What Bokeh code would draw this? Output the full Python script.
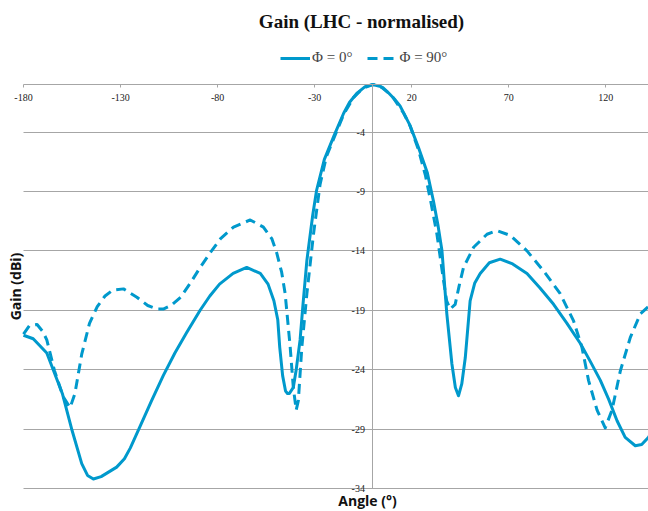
import math
from bokeh.plotting import figure
from bokeh.models import (Range1d, LinearAxis, FixedTicker, Label, Legend,
                          LegendItem, Grid, BoxAnnotation, LabelSet,
                          ColumnDataSource)
from bokeh.embed import file_html
from bokeh.resources import INLINE

# ---------------- data ----------------
x_ticks = [-180, -130, -80, -30, 20, 70, 120]
x_tick_labels = ["-180", "-130", "-80", "-30", "20", "70", "120"]
y_ticks = [-34, -29, -24, -19, -14, -9, -4]
y_tick_labels = ["-34", "-29", "-24", "-19", "-14", "-9", "-4"]
x_min, x_max = -180, 142
y_min, y_max = -34, 0

phi0_angle = [-180, -175, -168, -160, -155, -150, -147, -144, -140, -136, -132,
              -128, -125, -120, -114, -108, -102, -96, -89, -84, -79, -72, -65,
              -58, -54, -51, -49, -48, -46.5, -45, -44, -43, -41, -39.5, -37.5,
              -36, -34, -31, -29, -25, -20, -15, -12, -8, -4, 0, 4, 8, 11, 14,
              19, 23.5, 28, 31.2, 33.5, 35.6, 38.1, 40.7, 42.5, 44.1, 45.8, 47.6,
              50.1, 52.5, 55.3, 60, 65.6, 72, 79.4, 86, 93.1, 100, 106.9, 112,
              117.2, 121.5, 125.8, 130, 135.2, 138.5, 141.9, 145]
phi0_gain = [-21.1, -21.4, -22.6, -26.0, -29.1, -31.9, -32.9, -33.2, -33.0, -32.6,
             -32.2, -31.5, -30.6, -28.8, -26.6, -24.5, -22.6, -20.9, -19.0, -17.8,
             -16.8, -15.9, -15.4, -15.9, -16.8, -18.2, -19.8, -22.1, -24.5, -25.8,
             -26.0, -26.0, -25.5, -24.0, -21.5, -18.5, -14.8, -11.0, -8.9, -6.3,
             -4.3, -2.4, -1.5, -0.7, -0.18, 0.0, -0.18, -0.7, -1.2, -1.8, -3.4,
             -5.3, -7.4, -9.8, -11.8, -14.0, -19.3, -23.5, -25.5, -26.2, -25.2,
             -23.0, -18.2, -16.7, -15.9, -15.0, -14.7, -15.1, -15.9, -17.1, -18.5,
             -20.1, -21.8, -23.3, -24.9, -26.5, -28.3, -29.7, -30.4, -30.3, -29.7,
             -29.0]

phi90_angle = [-180, -177, -173, -170, -168, -164, -159.5, -156, -153.5, -150,
               -146, -142, -138, -134, -128.5, -121.6, -116, -111, -108, -104,
               -99, -94, -89, -84, -78.6, -71.8, -63.2, -56.4, -52, -49.5, -47,
               -45.2, -42.6, -41, -39.5, -38.4, -36.6, -34, -30.6, -27.2, -24,
               -20.3, -15, -10, -5, 0, 5, 10, 15.8, 19.2, 23.5, 27, 30, 33, 36.4,
               38, 39.8, 42.4, 44.5, 46.7, 51.9, 58.8, 63.9, 70.8, 79.4, 88, 96.5,
               103.4, 107.7, 111.1, 115.5, 119.7, 123.2, 127.5, 132.6, 137.8,
               141.9, 145]
phi90_gain = [-21.0, -20.3, -20.2, -20.8, -21.5, -24.1, -26.3, -27.2, -26.0, -22.7,
              -20.1, -18.7, -17.8, -17.3, -17.2, -17.9, -18.6, -18.9, -18.9, -18.6,
              -17.9, -16.7, -15.4, -14.2, -13.0, -12.0, -11.4, -12.0, -13.0, -14.2,
              -15.8, -17.6, -22.1, -25.5, -27.4, -26.6, -22.1, -17.6, -12.6, -8.4,
              -6.1, -4.6, -2.5, -1.1, -0.3, 0.0, -0.25, -1.0, -2.4, -3.5, -5.5, -7.6,
              -10.0, -12.6, -16.5, -18.2, -18.9, -18.5, -16.9, -15.4, -13.7, -12.6,
              -12.3, -12.7, -14.0, -15.7, -17.6, -19.9, -22.1, -24.9, -27.4, -28.9,
              -27.4, -24.1, -21.3, -19.3, -18.7, -18.2]

series_labels = ["\u03a6 = 0\u00b0", "\u03a6 = 90\u00b0"]
title_text = "Gain (LHC - normalised)"
x_title = "Angle (\u00b0)"
y_title = "Gain (dBi)"

# ---------------- layout / style ----------------
W, H = 648, 511
AREA_L, AREA_R, AREA_T, AREA_B = 23, 648, 84, 488   # plot area in pixels
BLUE = "#0099CC"
GRID = "#A6A6A6"
NARROW = "Liberation Sans Narrow"
FONT = "Open Sans"

kx = (AREA_R - AREA_L) / (x_max - x_min)
ky = (AREA_B - AREA_T) / (y_max - y_min)
xr = Range1d(x_min - AREA_L / kx, x_max + (W - AREA_R) / kx)
yr = Range1d(y_min - (H - AREA_B) / ky, y_max + AREA_T / ky)

p = figure(width=W, height=H, output_backend="svg", toolbar_location=None,
           x_range=xr, y_range=yr, x_axis_location=None, y_axis_location=None,
           min_border=0)
p.outline_line_color = None
p.background_fill_color = "white"
p.border_fill_color = "white"
for g in p.grid:
    g.visible = False

grid = Grid(dimension=1, ticker=FixedTicker(ticks=y_ticks),
            grid_line_color=GRID, grid_line_width=1)
if "cross_bounds" in Grid.properties():
    grid.cross_bounds = (x_min, x_max)
    p.add_layout(grid)
else:
    p.add_layout(grid)
    p.add_layout(BoxAnnotation(left=0, right=AREA_L, left_units="screen",
                               right_units="screen", fill_color="white",
                               fill_alpha=1, line_color=None, level="underlay"))

# horizontal axis along the 0 dB line (labels under it)
xaxis = LinearAxis(fixed_location=0, ticker=FixedTicker(ticks=x_ticks),
                   bounds=(x_min, x_max),
                   major_label_overrides=dict(zip(x_ticks, x_tick_labels)))
# vertical axis along the 0 deg line (its labels are drawn by a LabelSet)
yaxis = LinearAxis(fixed_location=0, ticker=FixedTicker(ticks=y_ticks),
                   bounds=(y_min, y_max),
                   major_label_overrides={t: "" for t in y_ticks})
for ax in (xaxis, yaxis):
    ax.axis_line_color = GRID
    ax.axis_line_width = 1
    ax.major_tick_line_color = GRID
    ax.major_tick_out = 3
    ax.major_tick_in = 0
    ax.minor_tick_line_color = None
    ax.major_label_text_font = NARROW
    ax.major_label_text_font_size = "10px"
    ax.major_label_text_color = "#222222"
yaxis.major_tick_out = 0
yaxis.major_tick_in = 3
xaxis.major_label_standoff = 6
p.add_layout(xaxis, "below")
p.add_layout(yaxis, "left")

ylab_src = ColumnDataSource(dict(x=[0] * len(y_ticks), y=y_ticks,
                                 text=y_tick_labels))
p.add_layout(LabelSet(x="x", y="y", text="text", source=ylab_src,
                      x_offset=-8, y_offset=0, text_align="right",
                      text_baseline="middle", text_font=NARROW,
                      text_font_size="10px", text_color="#222222"))

r0 = p.line(phi0_angle, phi0_gain, line_color=BLUE, line_width=3,
            line_join="round")
r1 = p.line(phi90_angle, phi90_gain, line_color=BLUE, line_width=3,
            line_dash="10 6", line_join="round")

legend = Legend(items=[LegendItem(label=series_labels[0], renderers=[r0]),
                       LegendItem(label=series_labels[1], renderers=[r1])],
                orientation="horizontal", location=(280, H - 66),
                glyph_width=30, glyph_height=16, label_standoff=2, spacing=15,
                padding=0, margin=0, border_line_color=None,
                background_fill_alpha=0, label_text_font=NARROW,
                label_text_font_size="15px", label_height=16)
p.add_layout(legend)

p.add_layout(Label(x=361, y=H - 21, x_units="screen", y_units="screen",
                   text=title_text, text_align="center", text_baseline="middle",
                   text_font=NARROW, text_font_style="bold",
                   text_font_size="19px", text_color="#111111"))
p.add_layout(Label(x=367, y=H - 500, x_units="screen", y_units="screen",
                   text=x_title, text_align="center", text_baseline="middle",
                   text_font=FONT, text_font_style="bold",
                   text_font_size="14px", text_color="#111111"))
p.add_layout(Label(x=15, y=H - 286, x_units="screen", y_units="screen",
                   text=y_title, text_align="center", text_baseline="middle",
                   angle=math.pi / 2, text_font=FONT, text_font_style="bold",
                   text_font_size="14px", text_color="#111111"))

open("out.html", "w").write(file_html(p, INLINE))
